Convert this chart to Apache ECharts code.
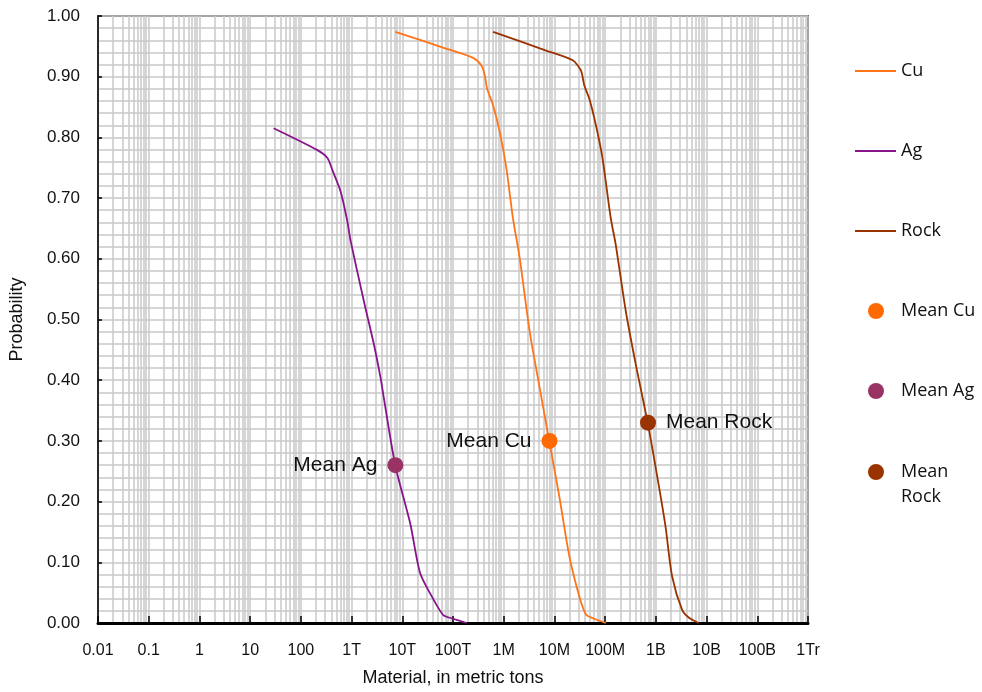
<!DOCTYPE html>
<html>
<head>
<meta charset="utf-8">
<script src="https://cdn.jsdelivr.net/npm/echarts@6/dist/echarts.min.js"></script>
<style>
  html, body { margin: 0; padding: 0; background: #fff; }
  #main { width: 982px; height: 692px; }
</style>
</head>
<body>
<div id="main"></div>
<script>
// tick labels for each decade, 0.01 .. 1e12 (x axis is drawn in log10 units)
const xTickLabels = ['0.01', '0.1', '1', '10', '100', '1T', '10T', '100T', '1M', '10M', '100M', '1B', '10B', '100B', '1Tr'];

// Ag curve (metric tons, probability)
const agX = [29, 212, 334, 419, 608, 824, 955, 1740, 2740, 3710, 4190, 7300, 14350, 22540, 41100, 64560, 101400, 185600];
const agY = [0.815, 0.779, 0.766, 0.746, 0.711, 0.662, 0.630, 0.531, 0.460, 0.405, 0.378, 0.259, 0.164, 0.082, 0.039, 0.013, 0.007, 0.0];

// Cu curve
const cuX = [7300, 75200, 250000, 365600, 424000, 470600, 616600, 835000, 1.13e6, 1.52e6, 2.06e6, 3.24e6, 5.08e6, 7.98e6, 1.25e7, 1.97e7, 3.09e7, 4.19e7, 6.08e7, 1.03e8];
const cuY = [0.974, 0.946, 0.931, 0.918, 0.902, 0.880, 0.853, 0.809, 0.749, 0.667, 0.602, 0.481, 0.389, 0.298, 0.208, 0.110, 0.044, 0.014, 0.007, 0.0];

// Rock curve
const rockX = [616600, 6.87e6, 2.29e7, 3.34e7, 3.87e7, 4.86e7, 6.58e7, 8.86e7, 1.29e8, 1.62e8, 2.55e8, 4.0e8, 6.97e8, 1.15e9, 1.55e9, 2.09e9, 3.28e9, 4.44e9, 6.97e9];
const rockY = [0.974, 0.943, 0.927, 0.910, 0.886, 0.864, 0.820, 0.766, 0.667, 0.623, 0.514, 0.427, 0.328, 0.225, 0.159, 0.077, 0.022, 0.009, 0.0];

// means
const meanCu = [8.0e6, 0.30];
const meanAg = [7300, 0.26];
const meanRock = [7.0e8, 0.33];

const narrow = "'Liberation Sans Narrow', 'Liberation Sans', sans-serif";
const legendFont = "'Open Sans', 'Noto Sans', sans-serif";
const labelFont = "'Liberation Sans', Arial, sans-serif";
const gridColor = '#c8c8c8';

function toLog(xs, ys) {
  return xs.map((x, i) => [Math.log10(x), ys[i]]);
}

// minor log grid lines (2..9 of every decade)
let minorLines = [];
for (let k = -2; k < 12; k++) {
  for (let m = 2; m <= 9; m++) {
    minorLines.push({ xAxis: k + Math.log10(m) });
  }
}

const chart = echarts.init(document.getElementById('main'), null, { renderer: 'canvas' });

function legendAt(name, left, top, extra) {
  return Object.assign({
    data: [name],
    orient: 'vertical',
    left: left,
    top: top,
    itemGap: 0,
    selectedMode: false,
    textStyle: { fontFamily: legendFont, fontSize: 18, lineHeight: 20, color: '#111' },
  }, extra || {});
}

const lineIcon = { icon: 'rect', itemWidth: 41, itemHeight: 2 };
const dotIcon = {
  icon: 'circle', itemWidth: 16, itemHeight: 16,
  textStyle: { fontFamily: legendFont, fontSize: 18, lineHeight: 20, color: '#111', padding: [0, 0, 0, 12] },
};

function meanLabel(text, pos) {
  return {
    show: true, position: pos, distance: 10, formatter: text,
    fontFamily: labelFont, fontSize: 21, color: '#111', textBorderWidth: 0,
  };
}

function curve(name, xs, ys, color) {
  return {
    name: name, type: 'line', data: toLog(xs, ys), symbol: 'none',
    smooth: 0.25, z: 3,
    color: color, lineStyle: { color: color, width: 1.8 },
  };
}

const option = {
  animation: false,
  backgroundColor: '#fff',
  grid: {
    left: 97, right: 174, top: 16, bottom: 65,
    show: true, borderColor: '#000', borderWidth: 1.5,
  },
  legend: [
    legendAt('Cu', 850, 56, lineIcon),
    legendAt('Ag', 850, 136, lineIcon),
    legendAt('Rock', 850, 216, lineIcon),
    legendAt('Mean Cu', 863, 296, dotIcon),
    legendAt('Mean Ag', 863, 376, dotIcon),
    legendAt('Mean Rock', 863, 454, {
      // circle sits at the top of a taller icon box so it lines up with "Mean"
      icon: 'path://M8,0 A8,8 0 1,1 8,16 A8,8 0 1,1 8,0 Z M8,41 L8.01,41 Z',
      itemWidth: 16, itemHeight: 41,
      formatter: () => 'Mean\nRock',
      textStyle: { fontFamily: legendFont, fontSize: 18, lineHeight: 25.5, color: '#111', padding: [0, 0, 0, 12] },
    }),
  ],
  xAxis: {
    type: 'value',
    min: -2,
    max: 12,
    interval: 1,
    name: 'Material, in metric tons',
    nameLocation: 'middle',
    nameGap: 46,
    nameTextStyle: { fontFamily: narrow, fontStyle: 'condensed', fontSize: 18, color: '#111' },
    axisLine: { show: true, onZero: false, lineStyle: { color: '#000', width: 3 } },
    axisTick: { show: true, inside: true, length: 7, lineStyle: { color: '#000', width: 1.5 } },
    axisLabel: {
      fontFamily: narrow, fontStyle: 'condensed', fontSize: 16, color: '#111', margin: 20,
      formatter: function (v) {
        return xTickLabels[Math.round(v) + 2] || '';
      },
    },
    splitLine: { show: true, lineStyle: { color: gridColor, width: 1.5 } },
  },
  yAxis: {
    type: 'value',
    min: 0,
    max: 1,
    interval: 0.1,
    name: 'Probability',
    nameLocation: 'middle',
    nameRotate: 90,
    nameGap: 72,
    nameTextStyle: { fontFamily: narrow, fontStyle: 'condensed', fontSize: 18, color: '#111' },
    axisLine: { show: true, onZero: false, lineStyle: { color: '#000', width: 1.5 } },
    axisTick: { show: true, inside: true, length: 4, lineStyle: { color: '#000', width: 1.5 } },
    axisLabel: {
      fontFamily: narrow, fontStyle: 'condensed', fontSize: 17, color: '#111', margin: 18,
      formatter: v => v.toFixed(2),
    },
    splitLine: { show: true, lineStyle: { color: gridColor, width: 1.5 } },
    minorTick: { show: false, splitNumber: 5 },
    minorSplitLine: { show: true, lineStyle: { color: gridColor, width: 1.5 } },
  },
  series: [
    {
      name: 'minor grid',
      type: 'line',
      data: [],
      z: 0,
      silent: true,
      markLine: {
        z: 0,
        silent: true,
        symbol: 'none',
        animation: false,
        label: { show: false },
        lineStyle: { color: gridColor, width: 1.5, type: 'solid' },
        emphasis: { disabled: true },
        data: minorLines,
      },
    },
    curve('Cu', cuX, cuY, '#ff7418'),
    curve('Ag', agX, agY, '#87148a'),
    curve('Rock', rockX, rockY, '#993300'),
    {
      name: 'Mean Cu', type: 'scatter', data: toLog([meanCu[0]], [meanCu[1]]), symbolSize: 16, z: 4,
      itemStyle: { color: '#ff6a00', opacity: 1 },
      label: meanLabel('Mean Cu', 'left'),
    },
    {
      name: 'Mean Ag', type: 'scatter', data: toLog([meanAg[0]], [meanAg[1]]), symbolSize: 16, z: 4,
      itemStyle: { color: '#993366', opacity: 1 },
      label: meanLabel('Mean Ag', 'left'),
    },
    {
      name: 'Mean Rock', type: 'scatter', data: toLog([meanRock[0]], [meanRock[1]]), symbolSize: 16, z: 4,
      itemStyle: { color: '#993300', opacity: 1 },
      label: meanLabel('Mean Rock', 'right'),
    },
  ],
};

chart.setOption(option);
</script>
</body>
</html>
